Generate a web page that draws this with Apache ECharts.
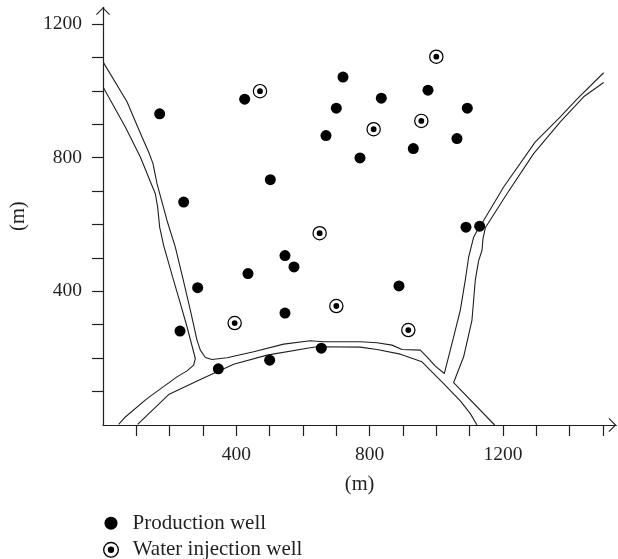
<!DOCTYPE html>
<html><head><meta charset="utf-8">
<style>html,body{margin:0;padding:0;background:#fff}#c{width:618px;height:559px}</style>
<script src="https://cdn.jsdelivr.net/npm/echarts@6/dist/echarts.min.js"></script>
</head><body><div id="c"></div>
<script>
const productionWells=[[170,931],[425,975],[502,734],[242,667],[546,507],[573,473],[435,453],[720,1041],[835,978],[975,1002],[700,948],[1093,948],[669,866],[771,799],[931,827],[1062,857],[1089,592],[1130,595],[284,411],[231,281],[546,335],[346,168],[500,194],[888,416],[655,230]];
const injectionWells=[[471,999],[1000,1102],[955,910],[812,885],[650,574],[395,305],[700,356],[916,284]];
const boundaryA=[[1,1085],[72,967],[117,862],[137,817],[150,782],[162,722],[192,612],[217,532],[240,437],[262,344],[282,254],[292,224],[307,202],[327,196],[372,201],[452,219],[542,242],[622,252],[662,249],[772,249],[822,246],[867,239],[897,226],[952,224],[972,204],[997,176],[1024,154],[1052,264],[1072,344],[1087,434],[1097,502],[1112,562],[1120,577],[1142,612],[1202,712],[1297,847],[1372,922],[1422,975],[1502,1054]];
const boundaryB=[[1,1010],[67,892],[112,802],[157,692],[164,652],[170,592],[182,537],[212,432],[232,364],[252,294],[277,199],[272,179],[252,162],[222,144],[132,79],[67,24],[47,2]];
const boundaryC=[[104,2],[132,29],[197,91],[292,136],[392,182],[492,209],[622,231],[642,234],[772,233],[822,226],[892,212],[957,189],[1022,124],[1072,72],[1102,34],[1122,0]];
const boundaryD=[[1175,0],[1052,127],[1082,204],[1107,314],[1112,374],[1117,434],[1127,492],[1137,522],[1140,557],[1147,590],[1212,692],[1292,812],[1372,907],[1442,982],[1502,1025]];
const xTicks=[100,200,300,400,500,600,700,800,900,1000,1100,1200,1300,1400,1500];
const yTicks=[100,200,300,400,500,600,700,800,900,1000,1100,1200];
const xLabels=[400,800,1200];
const yLabels=[400,800,1200];
const ink='#231f20', font='Liberation Serif';
const ringPath='path://M10,0A10,10 0 1 1 10,20A10,10 0 1 1 10,0ZM10,1.7A8.3,8.3 0 1 0 10,18.3A8.3,8.3 0 1 0 10,1.7ZM10,6A4,4 0 1 1 10,14A4,4 0 1 1 10,6Z';
const chevron='path://M0,7L7,0L14,7L13.2,7.8L7,1.6L0.8,7.8Z';
const lineSeries=d=>({type:'line',data:d,symbol:'none',silent:true,clip:false,z:1,lineStyle:{color:ink,width:1.1}});
const axisCommon=(ticks,labels,name,gap,margin)=>({type:'value',min:0,name,nameLocation:'middle',nameGap:gap,
  nameTextStyle:{color:ink,fontFamily:font,fontSize:20.5},splitLine:{show:false},
  axisLine:{onZero:false,symbol:['none',chevron],symbolSize:[14,7.8],symbolOffset:[0,-3.9],lineStyle:{color:ink,width:1.2}},
  axisTick:{show:true,length:11,customValues:ticks,lineStyle:{color:ink,width:1.2}},
  axisLabel:{customValues:labels,color:ink,fontFamily:font,fontSize:19.5,margin,formatter:v=>String(v)}});
const chart=echarts.init(document.getElementById('c'),null,{renderer:'canvas'});
chart.setOption({animation:false,backgroundColor:'#fff',
 grid:{left:102.7,top:7.25,width:513.6,height:417.75},
 xAxis:Object.assign(axisCommon(xTicks,xLabels,'(m)',49,20),{max:1540}),
 yAxis:Object.assign(axisCommon(yTicks,yLabels,'(m)',74,21),{max:1250}),
 legend:[
  {orient:'vertical',left:104.5,top:512.7,padding:0,itemWidth:13,itemHeight:13,itemGap:0,data:['Production well'],textStyle:{color:ink,fontFamily:font,fontSize:21,padding:[0,0,0,10]}},
  {orient:'vertical',left:103,top:539.3,padding:0,itemWidth:16,itemHeight:16,itemGap:0,data:['Water injection well'],textStyle:{color:ink,fontFamily:font,fontSize:21,padding:[0,0,0,8.7]}}
 ],
 series:[
  lineSeries(boundaryA),lineSeries(boundaryB),lineSeries(boundaryC),lineSeries(boundaryD),
  {name:'Production well',type:'scatter',data:productionWells,symbol:'circle',symbolSize:11,z:3,itemStyle:{color:'#000',opacity:1}},
  {name:'Water injection well',type:'scatter',data:injectionWells,symbol:ringPath,symbolSize:14.5,symbolKeepAspect:true,z:3,itemStyle:{color:'#000',opacity:1}}
 ]});
</script></body></html>
